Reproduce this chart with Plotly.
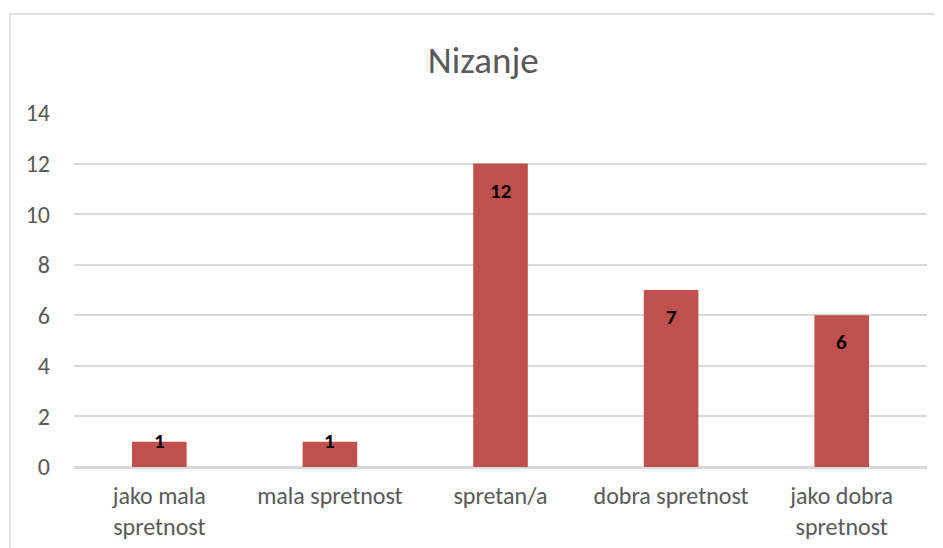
import plotly.graph_objects as go

# categories and counts
categories = ['jako mala<br>spretnost', 'mala spretnost', 'spretan/a', 'dobra spretnost', 'jako dobra<br>spretnost']
counts = [1, 1, 12, 7, 6]
y_ticks = [0, 2, 4, 6, 8, 10, 12, 14]

FONT = 'Carlito, Calibri, Lato, sans-serif'
Y_MAX = 14
PLOT_H = 354  # px height of plot area

# label centre sits ~27px under the bar top, but never closer than ~26px to the axis
px_per_unit = PLOT_H / Y_MAX
label_y = [max(c - 27 / px_per_unit, 26 / px_per_unit) for c in counts]

fig = go.Figure(go.Bar(
    x=categories, y=counts,
    marker=dict(color='#c0504d', line=dict(width=0)),
    hoverinfo='x+y',
))

for cat, c, ly in zip(categories, counts, label_y):
    fig.add_annotation(x=cat, y=ly, text='<b>%d</b>' % c, showarrow=False,
                       yanchor='middle', font=dict(family=FONT, size=21, color='black'))

fig.update_layout(
    width=943, height=548,
    margin=dict(l=66, r=24, t=105, b=89),
    paper_bgcolor='white', plot_bgcolor='white',
    bargap=0.68,
    showlegend=False,
    font=dict(family=FONT, size=24, color='#595959'),
    title=dict(text='Nizanje', x=0.504, xanchor='center', y=0.905, yanchor='middle',
               font=dict(family=FONT, size=37, color='#595959')),
    shapes=[dict(type='rect', xref='paper', yref='paper', x0=-0.075, x1=1.1, y0=-0.5, y1=1.28,
                 line=dict(color='#d9d9d9', width=1.5), layer='below')],
)
fig.update_xaxes(showline=True, linecolor='#d9d9d9', linewidth=1.5, ticks='', ticklabelstandoff=6)
fig.update_yaxes(range=[0, Y_MAX], tickvals=y_ticks, showgrid=True, gridcolor='#d9d9d9', gridwidth=1.5,
                 zeroline=True, zerolinecolor='#d9d9d9', ticks='', ticklabelstandoff=23)

fig.write_html('out.html')
